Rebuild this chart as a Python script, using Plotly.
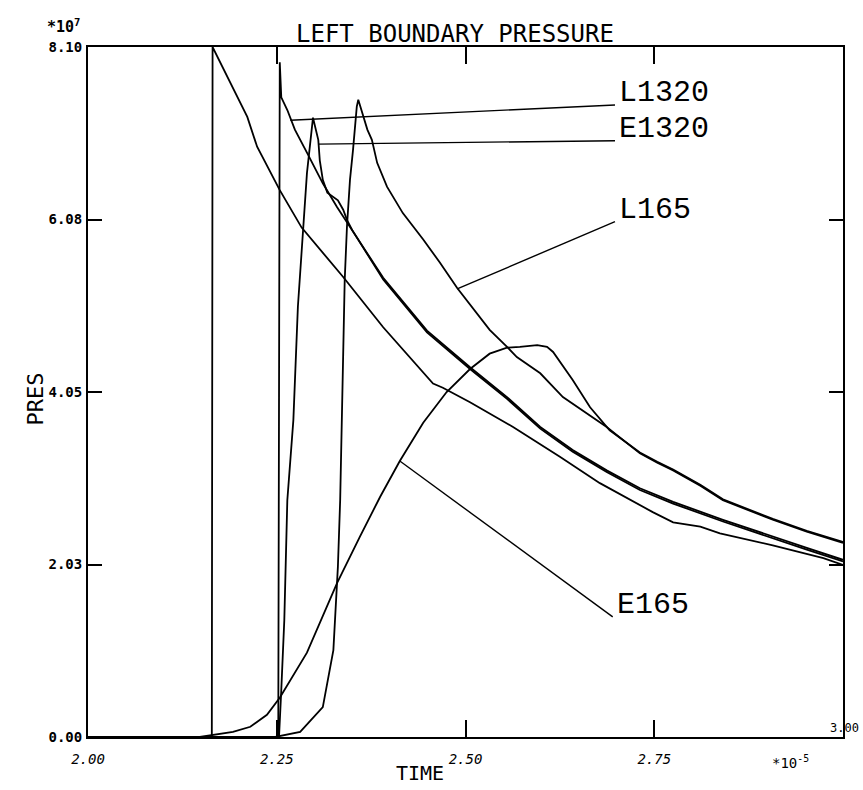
import plotly.graph_objects as go

# ---------------- data (time in 1e-5 s, pressure in 1e7) ----------------
t_exact = [2.000, 2.164, 2.165, 2.211, 2.224, 2.254, 2.283, 2.338, 2.391, 2.457, 2.470,
           2.506, 2.563, 2.625, 2.678, 2.731, 2.748, 2.775, 2.811, 2.837, 2.907, 2.974, 3.000]
p_exact = [0.00, 0.00, 8.10, 7.28, 6.93, 6.42, 5.98, 5.40, 4.81, 4.15, 4.10,
           3.93, 3.64, 3.29, 2.98, 2.72, 2.64, 2.52, 2.47, 2.39, 2.25, 2.10, 2.02]

t_l1320 = [2.000, 2.252, 2.254, 2.256, 2.264, 2.274, 2.290, 2.311, 2.330, 2.347, 2.391, 2.449,
           2.466, 2.506, 2.555, 2.599, 2.642, 2.687, 2.731, 2.775, 2.841, 2.907, 2.952, 3.000]
p_l1320 = [0.00, 0.00, 7.92, 7.51, 7.36, 7.13, 6.86, 6.50, 6.22, 5.99, 5.39, 4.77,
           4.64, 4.34, 3.99, 3.64, 3.37, 3.13, 2.92, 2.76, 2.55, 2.35, 2.22, 2.08]

t_e1320 = [2.000, 2.253, 2.256, 2.260, 2.264, 2.272, 2.278, 2.285, 2.290, 2.298, 2.305,
           2.307, 2.311, 2.317, 2.323, 2.331, 2.338, 2.343, 2.350, 2.391, 2.449, 2.466,
           2.506, 2.555, 2.599, 2.642, 2.687, 2.731, 2.775, 2.841, 2.907, 2.952, 3.000]
p_e1320 = [0.00, 0.00, 0.55, 1.37, 2.78, 3.72, 5.05, 5.99, 6.62, 7.27, 7.01,
           6.77, 6.54, 6.39, 6.35, 6.30, 6.19, 6.07, 5.95, 5.37, 4.75, 4.62,
           4.32, 3.97, 3.62, 3.35, 3.11, 2.90, 2.74, 2.53, 2.33, 2.20, 2.06]

t_l165 = [2.000, 2.248, 2.281, 2.311, 2.325, 2.331, 2.334, 2.336, 2.340, 2.343, 2.347, 2.351,
          2.356, 2.358, 2.363, 2.370, 2.376, 2.383, 2.396, 2.417, 2.444, 2.466, 2.489, 2.519,
          2.532, 2.555, 2.568, 2.599, 2.629, 2.687, 2.731, 2.754, 2.775, 2.811, 2.841, 2.907,
          2.952, 3.000]
p_l165 = [0.00, 0.00, 0.06, 0.35, 1.02, 2.00, 2.78, 3.72, 5.36, 5.99, 6.54, 6.89,
          7.40, 7.48, 7.34, 7.13, 7.01, 6.74, 6.46, 6.15, 5.84, 5.57, 5.27, 4.93,
          4.78, 4.58, 4.46, 4.27, 3.99, 3.64, 3.33, 3.22, 3.13, 2.95, 2.78, 2.55,
          2.41, 2.28]

t_e165 = [2.000, 2.148, 2.192, 2.215, 2.237, 2.254, 2.290, 2.330, 2.360, 2.387, 2.413, 2.444,
          2.475, 2.506, 2.532, 2.555, 2.572, 2.595, 2.608, 2.616, 2.642, 2.665, 2.691, 2.731,
          2.754, 2.775, 2.811, 2.841, 2.907, 2.952, 3.000]
p_e165 = [0.00, 0.00, 0.06, 0.12, 0.26, 0.46, 0.99, 1.81, 2.35, 2.82, 3.24, 3.69,
          4.05, 4.32, 4.50, 4.57, 4.58, 4.60, 4.58, 4.52, 4.19, 3.87, 3.60, 3.34,
          3.23, 3.14, 2.96, 2.79, 2.56, 2.42, 2.29]

# curve labels and their leader lines (start on curve, end at label)
label_names = ["L1320", "E1320", "L165", "E165"]
leader_t0 = [2.268, 2.305, 2.489, 2.413]
leader_p0 = [7.24, 6.96, 5.26, 3.24]
leader_t1 = [2.698, 2.698, 2.698, 2.695]
leader_p1 = [7.42, 7.00, 6.05, 1.41]

x_tickvals = [2.00, 2.25, 2.50, 2.75]
x_ticktext = ["2.00", "2.25", "2.50", "2.75"]
y_tickvals = [0.0, 2.025, 4.05, 6.075, 8.10]
y_ticktext = ["0.00", "2.03", "4.05", "6.08", "8.10"]

# ---------------- figure ----------------
fig = go.Figure()
line_style = dict(color="black", width=1.8)
for tt, pp, nm in [(t_exact, p_exact, "exact"), (t_l1320, p_l1320, "L1320"),
                   (t_e1320, p_e1320, "E1320"), (t_l165, p_l165, "L165"),
                   (t_e165, p_e165, "E165")]:
    fig.add_trace(go.Scatter(x=tt, y=pp, mode="lines", line=line_style, name=nm,
                             showlegend=False, hoverinfo="skip"))

for i, nm in enumerate(label_names):
    fig.add_trace(go.Scatter(x=[leader_t0[i], leader_t1[i]], y=[leader_p0[i], leader_p1[i]],
                             mode="lines", line=dict(color="black", width=1.4),
                             showlegend=False, hoverinfo="skip"))
    fig.add_annotation(x=leader_t1[i] + 0.003, y=leader_p1[i], xref="x", yref="y",
                       text=nm, showarrow=False, xanchor="left", yanchor="bottom",
                       yshift=-7,
                       font=dict(family="Liberation Mono", size=30, color="black"))

axis_common = dict(showgrid=False, zeroline=False, showline=True, linecolor="black",
                   linewidth=2, mirror="ticks", ticks="inside", tickcolor="black",
                   tickwidth=2)

fig.update_xaxes(range=[2.0, 3.0], tickvals=x_tickvals, ticktext=x_ticktext, ticklen=17,
                 tickfont=dict(family="DejaVu Sans Mono", size=14, color="black", style="italic"),
                 ticklabelstandoff=8, **axis_common)
fig.update_yaxes(range=[0.0, 8.10], tickvals=y_tickvals, ticktext=y_ticktext, ticklen=14,
                 tickfont=dict(family="DejaVu Sans Mono", size=14, color="black", weight="bold"),
                 ticklabelstandoff=1, **axis_common)

fig.add_annotation(xref="paper", yref="paper", x=0.486, y=1.0, yanchor="bottom", yshift=-3,
                   text="LEFT BOUNDARY PRESSURE", showarrow=False,
                   font=dict(family="DejaVu Sans Mono", size=24, color="black"))
fig.add_annotation(xref="paper", yref="paper", x=0.44, y=-0.052, yanchor="middle",
                   text="TIME", showarrow=False,
                   font=dict(family="DejaVu Sans Mono", size=20, color="black"))
fig.add_annotation(xref="paper", yref="paper", x=-0.0887, y=0.49, textangle=-90,
                   text="PRES", showarrow=False,
                   font=dict(family="DejaVu Sans Mono", size=22, color="black"))
fig.add_annotation(xref="paper", yref="paper", x=-0.057, y=1.030, yanchor="middle",
                   text="*10<sup>7</sup>", showarrow=False,
                   font=dict(family="DejaVu Sans Mono", size=15, color="black", weight="bold"))
fig.add_annotation(xref="paper", yref="paper", x=0.958, y=-0.036, yanchor="middle",
                   text="*10<sup>-5</sup>", showarrow=False,
                   font=dict(family="DejaVu Sans Mono", size=14, color="black"))
fig.add_annotation(xref="paper", yref="paper", x=1.0237, y=0.013, xanchor="right",
                   yanchor="middle", text="3.00", showarrow=False,
                   font=dict(family="DejaVu Sans Mono", size=12, color="black"))

fig.update_layout(width=863, height=790, margin=dict(l=88, r=20, t=47, b=53),
                  paper_bgcolor="white", plot_bgcolor="white", showlegend=False)

fig.write_html("out.html")
